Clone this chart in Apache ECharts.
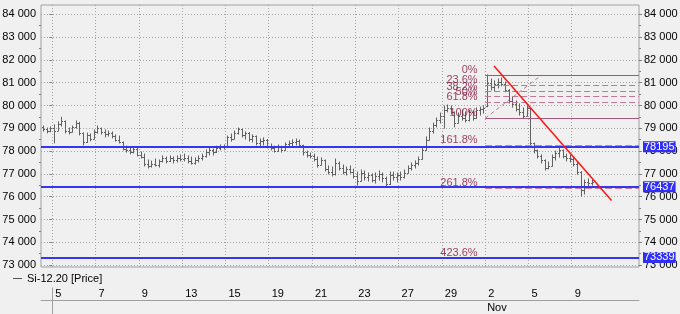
<!DOCTYPE html>
<html><head><meta charset="utf-8">
<script src="https://cdn.jsdelivr.net/npm/echarts@6/dist/echarts.min.js"></script>
<style>html,body{margin:0;padding:0;background:#f0f0f0}#c{width:680px;height:314px}</style>
</head><body><div id="c"></div><script>
const seriesName = 'Si-12.20 [Price]';
const barsPerDay = 6;          // time slots per trading day
const firstBarDay = -0.5;      // first slot starts half a day before Oct 5 (day 0)
const opens = [79050,78950,78870,
79000,78900,79200,79300,78900,78850, 79050,79250,78800,78400,78700,78550,
78850,79000,78850,78750,78800,78650, 78500,78400,78100,78050,77950,78100,
77850,77750,77450,77350,77450,77400, 77550,77700,77550,77700,77600,77700,
77650,77700,77550,77500,77600,77700, 77800,77950,78050,77950,78150,78200,
78220,78600,78550,78800,78950,78700, 78800,78550,78650,78350,78450,78500,
78200,78150,78000,78200,78050,78300, 78350,78400,78450,78250,77950,77850,
77800,77650,77400,77600,77200,77100, 77000,77500,77250,77100,77200,77100,
76900,76700,77050,76850,76950,76750, 76900,77000,76800,76550,76950,76850,
76950,76850,77050,77250,77400,77500, 77650,78050,78500,78900,79150,79350,
79550,79800,79900,79700,79250,79550, 79450,79350,79700,79450,79800,79850,
80000,81000,80800,80950,81050,80950, 80700,80200,80050,79850,79700,79550,
79900,78350,78050,77800,77600,77250, 77350,77750,77900,78050,77800,77700,
77650,77450,77100,76300,76650,76600];
const highs = [79100,79010,79060,
79150,79280,79480,79320,79010,79100, 79320,79260,78800,78790,78750,78930,
79100,79010,78930,78880,78840,78710, 78660,78400,78220,78140,78180,78110,
77960,77870,77610,77560,77650,77610, 77790,77740,77790,77740,77790,77830,
77870,77790,77740,77700,77790,77870, 78050,78140,78090,78220,78270,78270,
78660,78750,78880,79010,78960,78840, 78810,78710,78660,78530,78580,78510,
78310,78220,78270,78210,78360,78440, 78490,78530,78490,78260,78000,77920,
77870,77740,77700,77610,77350,77300, 77650,77520,77390,77300,77350,77210,
77080,77170,77130,77040,77000,77040, 77130,77040,76860,77080,77080,77040,
77080,77170,77350,77480,77570,77740, 78140,78620,79010,79230,79450,79670,
79980,80020,79980,79720,79670,79800, 79720,79800,79760,79890,79930,79980,
81340,81160,81080,81160,81200,81030, 80700,80370,80200,80070,79890,79980,
79900,78350,78050,77830,77610,77520, 77830,78000,78140,78050,77870,77830,
77700,77520,77100,76730,76780,76730];
const lows = [78880,78800,78850,
78360,78900,79100,78800,78750,78840, 79010,78710,78270,78380,78450,78540,
78790,78750,78620,78660,78580,78440, 78360,78050,77960,77880,77920,77790,
77700,77350,77260,77300,77350,77300, 77520,77480,77540,77480,77520,77570,
77570,77480,77430,77430,77520,77610, 77740,77830,77830,77940,78050,78090,
78200,78440,78540,78750,78620,78530, 78440,78400,78270,78220,78270,78140,
78050,77960,77990,77960,78040,78180, 78220,78270,78180,77830,77740,77700,
77570,77300,77390,77130,77000,76910, 76950,77170,77000,76950,77040,76820,
76510,76690,76730,76690,76650,76600, 76730,76650,76430,76540,76730,76650,
76730,76820,77040,77170,77260,77390, 77640,78040,78490,78790,79060,79230,
79010,79720,79630,79060,79240,79360, 79280,79320,79360,79440,79580,79670,
79950,80680,80640,80770,80860,80600, 80110,79930,79760,79580,79450,79540,
78220,77920,77700,77480,77170,77220, 77340,77610,77740,77700,77570,77520,
77350,76990,76030,76120,76470,76510];
const closes = [78950,78870,79000,
78900,79200,79300,78900,78850,79050, 79250,78800,78400,78700,78550,78850,
79000,78850,78750,78800,78650,78500, 78400,78100,78050,77950,78100,77850,
77750,77450,77350,77450,77400,77550, 77700,77550,77700,77600,77700,77650,
77700,77550,77500,77600,77700,77800, 77950,78050,77950,78150,78200,78220,
78600,78550,78800,78950,78700,78800, 78550,78650,78350,78450,78500,78200,
78150,78000,78200,78050,78300,78350, 78400,78450,78250,77950,77850,77800,
77650,77400,77600,77200,77100,77000, 77500,77250,77100,77200,77100,76900,
76700,77050,76850,76950,76750,76900, 77000,76800,76550,76950,76850,76950,
76850,77050,77250,77400,77500,77650, 78050,78500,78900,79150,79350,79550,
79800,79900,79700,79250,79550,79450, 79350,79700,79450,79800,79850,79900,
81000,80800,80950,81050,80950,80700, 80200,80050,79850,79700,79550,79900,
78350,78050,77800,77600,77250,77350, 77750,77900,78050,77800,77700,77650,
77450,77100,76300,76650,76600,76650];

const dateTickDays = [0,2,4,6,8,10,12,14,16,18,20,22,24];
const dateTickLabels = ['5','7','9','13','15','19','21','23','27','29','2','5','9'];
const monthTickDays = [20];
const monthTickLabels = ['Nov'];
const yLabelValues = [73000,74000,75000,76000,77000,78000,79000,80000,81000,82000,83000,84000];
const yMinorValues = [73500,74500,75500,76500,77500,78500,79500,80500,81500,82500,83500];
const priceLines = [78195, 76437, 73339];
const fibStartDay = 20;
const fibHigh = 81330;
const fibLow = 79440;
const fibLevels = [0, 23.6, 38.2, 50, 61.8, 100];
const fibExtLevels = [161.8, 261.8, 423.6];
const fibDiagonal = [[20, 79440], [22.6, 81330]];
const trendLine = [[20.41, 81732], [25.84, 75833]];
const xMin = -0.522, xMax = 27.11, yMin = 72917, yMax = 84408;

const font = '"Liberation Sans", Arial, sans-serif';
const fmtY = v => String(v).replace(/\B(?=(\d{3})+(?!\d))/g, ' ');
const fibVal = p => fibHigh - p / 100 * (fibHigh - fibLow);
const pct = p => p + '%';

const ohlc = opens.map((o, i) => [firstBarDay + (i + 0.5) / barsPerDay, o, closes[i], lows[i], highs[i]]);

const chart = echarts.init(document.getElementById('c'), null, {renderer: 'canvas'});
const barColor = '#616161';

const fibLineData = fibLevels.map(p => {
  const v = fibVal(p);
  const solid = (p === 0 || p === 100);
  return [{coord: [fibStartDay, v], lineStyle: {type: solid ? 'solid' : [6, 3], color: solid ? '#a3577c' : '#bd7896', width: 1}}, {coord: [xMax, v]}];
});
const fibExtData = fibExtLevels.map(p => {
  const v = fibVal(p);
  return [{coord: [fibStartDay, v]}, {coord: [xMax, v]}];
});
const fibLabelData = fibLevels.concat(fibExtLevels).map(p => [fibStartDay, fibVal(p), pct(p)]);

const yAxisBase = {type: 'value', gridIndex: 0, min: yMin, max: yMax, axisLine: {show: false}, splitLine: {show: false}};

chart.setOption({
  backgroundColor: '#f0f0f0',
  animation: false,
  textStyle: {fontFamily: font},
  grid: [
    {left: 41, right: 41, top: 5, bottom: 47, show: true, borderColor: '#a0a0a0', borderWidth: 1, backgroundColor: 'transparent', outerBoundsMode: 'none', containLabel: false},
    {left: 41, right: 41, top: 288, bottom: 0, show: false, outerBoundsMode: 'none', containLabel: false}
  ],
  legend: {
    data: [seriesName], left: 8, top: 268, icon: 'rect', itemWidth: 9, itemHeight: 1,
    textStyle: {fontSize: 11, color: '#000', fontFamily: font}, selectedMode: false
  },
  xAxis: [
    {type: 'value', gridIndex: 0, min: xMin, max: xMax, axisLine: {show: false},
     axisLabel: {show: false}, axisTick: {show: false, customValues: dateTickDays},
     splitLine: {show: true, lineStyle: {color: '#a4a4a4', type: [1, 2], width: 1}}},
    {type: 'value', gridIndex: 1, position: 'top', min: xMin, max: xMax,
     axisLine: {show: true, lineStyle: {color: '#cdcdcd'}},
     axisTick: {show: true, inside: true, length: 12, customValues: dateTickDays, lineStyle: {color: '#a0a0a0'}},
     axisLabel: {show: true, inside: true, margin: 0, customValues: dateTickDays, align: 'left', padding: [0, 0, 0, 3],
       color: '#000', fontSize: 11, fontFamily: font, formatter: v => dateTickLabels[dateTickDays.indexOf(v)]},
     splitLine: {show: false}},
    {type: 'value', gridIndex: 1, position: 'bottom', offset: -14, min: xMin, max: xMax,
     axisLine: {show: true, lineStyle: {color: '#a0a0a0'}},
     axisTick: {show: false, customValues: monthTickDays},
     axisLabel: {show: true, margin: 2, customValues: monthTickDays, align: 'left', padding: [0, 0, 0, 2],
       color: '#000', fontSize: 11, fontFamily: font, formatter: v => monthTickLabels[monthTickDays.indexOf(v)]},
     splitLine: {show: false}}
  ],
  yAxis: [
    Object.assign({}, yAxisBase, {position: 'left',
      axisTick: {show: true, length: 3, customValues: yLabelValues, lineStyle: {color: '#808080'}},
      axisLabel: {show: true, margin: 5, customValues: yLabelValues, formatter: fmtY, color: '#000', fontSize: 11, fontFamily: font},
      splitLine: {show: true, lineStyle: {color: '#a4a4a4', type: [1, 2], width: 1}}}),
    Object.assign({}, yAxisBase, {position: 'left',
      axisTick: {show: true, length: 2, customValues: yMinorValues, lineStyle: {color: '#808080'}},
      axisLabel: {show: false}}),
    Object.assign({}, yAxisBase, {position: 'right',
      axisTick: {show: true, length: 3, customValues: yLabelValues, lineStyle: {color: '#808080'}},
      axisLabel: {show: true, margin: 5, customValues: yLabelValues, formatter: fmtY, color: '#000', fontSize: 11, fontFamily: font}}),
    Object.assign({}, yAxisBase, {position: 'right',
      axisTick: {show: true, length: 2, customValues: yMinorValues, lineStyle: {color: '#808080'}},
      axisLabel: {show: false}}),
    {type: 'value', gridIndex: 1, position: 'left', min: 0, max: 1, axisLine: {show: true, lineStyle: {color: '#a0a0a0'}},
     axisTick: {show: false}, axisLabel: {show: false}, splitLine: {show: false}}
  ],
  series: [
    {name: 'fibExt', type: 'line', xAxisIndex: 0, yAxisIndex: 0, data: [], z: 2, silent: true,
     markLine: {silent: true, symbol: 'none', animation: false, label: {show: false},
       lineStyle: {color: '#d0829f', width: 1, type: [7, 3]}, data: fibExtData}},
    {name: 'levels', type: 'line', xAxisIndex: 0, yAxisIndex: 0, data: [], z: 3, silent: true,
     markLine: {silent: true, symbol: 'none', animation: false,
       lineStyle: {color: '#3535f2', width: 2, type: 'solid'},
       label: {show: true, position: 'end', distance: 4, formatter: '{c}', color: '#fff', backgroundColor: '#2f2ff5',
         fontSize: 11, fontFamily: font, padding: [0, 1, 0, 1], lineHeight: 11},
       data: priceLines.map(v => ({yAxis: v}))}},
    {name: 'fib', type: 'line', xAxisIndex: 0, yAxisIndex: 0, data: [], z: 3, silent: true,
     markLine: {silent: true, symbol: 'none', animation: false, label: {show: false}, data: fibLineData}},
    {name: 'fibDiag', type: 'line', xAxisIndex: 0, yAxisIndex: 0, data: fibDiagonal, symbol: 'none', silent: true, z: 3,
     lineStyle: {color: '#c07893', width: 1, type: [4, 3]}},
    {name: 'fibLabels', type: 'scatter', xAxisIndex: 0, yAxisIndex: 0, data: fibLabelData, symbolSize: 1, silent: true, z: 6,
     itemStyle: {color: 'rgba(0,0,0,0)'},
     label: {show: true, position: 'left', distance: 7, offset: [0, -5], color: '#7e1038', fontSize: 11, fontFamily: font,
       formatter: p => p.data[2]}},
    {name: seriesName, type: 'custom', xAxisIndex: 0, yAxisIndex: 0, data: ohlc, z: 4,
     itemStyle: {color: '#555'},
     encode: {x: 0, y: [1, 2, 3, 4]},
     renderItem: function (params, api) {
       const x = api.value(0);
       const o = api.coord([x, api.value(1)]);
       const c = api.coord([x, api.value(2)]);
       const l = api.coord([x, api.value(3)]);
       const h = api.coord([x, api.value(4)]);
       const px = Math.round(h[0]) + 0.5;
       const st = {stroke: barColor, lineWidth: 1};
       return {type: 'group', children: [
         {type: 'line', shape: {x1: px, y1: h[1] - 0.5, x2: px, y2: l[1] + 0.5}, style: st},
         {type: 'line', shape: {x1: px - 1.5, y1: Math.round(o[1]) + 0.5, x2: px, y2: Math.round(o[1]) + 0.5}, style: st},
         {type: 'line', shape: {x1: px, y1: Math.round(c[1]) + 0.5, x2: px + 1.5, y2: Math.round(c[1]) + 0.5}, style: st}
       ]};
     }},
    {name: 'trend', type: 'line', xAxisIndex: 0, yAxisIndex: 0, data: trendLine, symbol: 'none', silent: true, z: 7,
     lineStyle: {color: '#ff1414', width: 1.5}}
  ]
});
</script></body></html>
